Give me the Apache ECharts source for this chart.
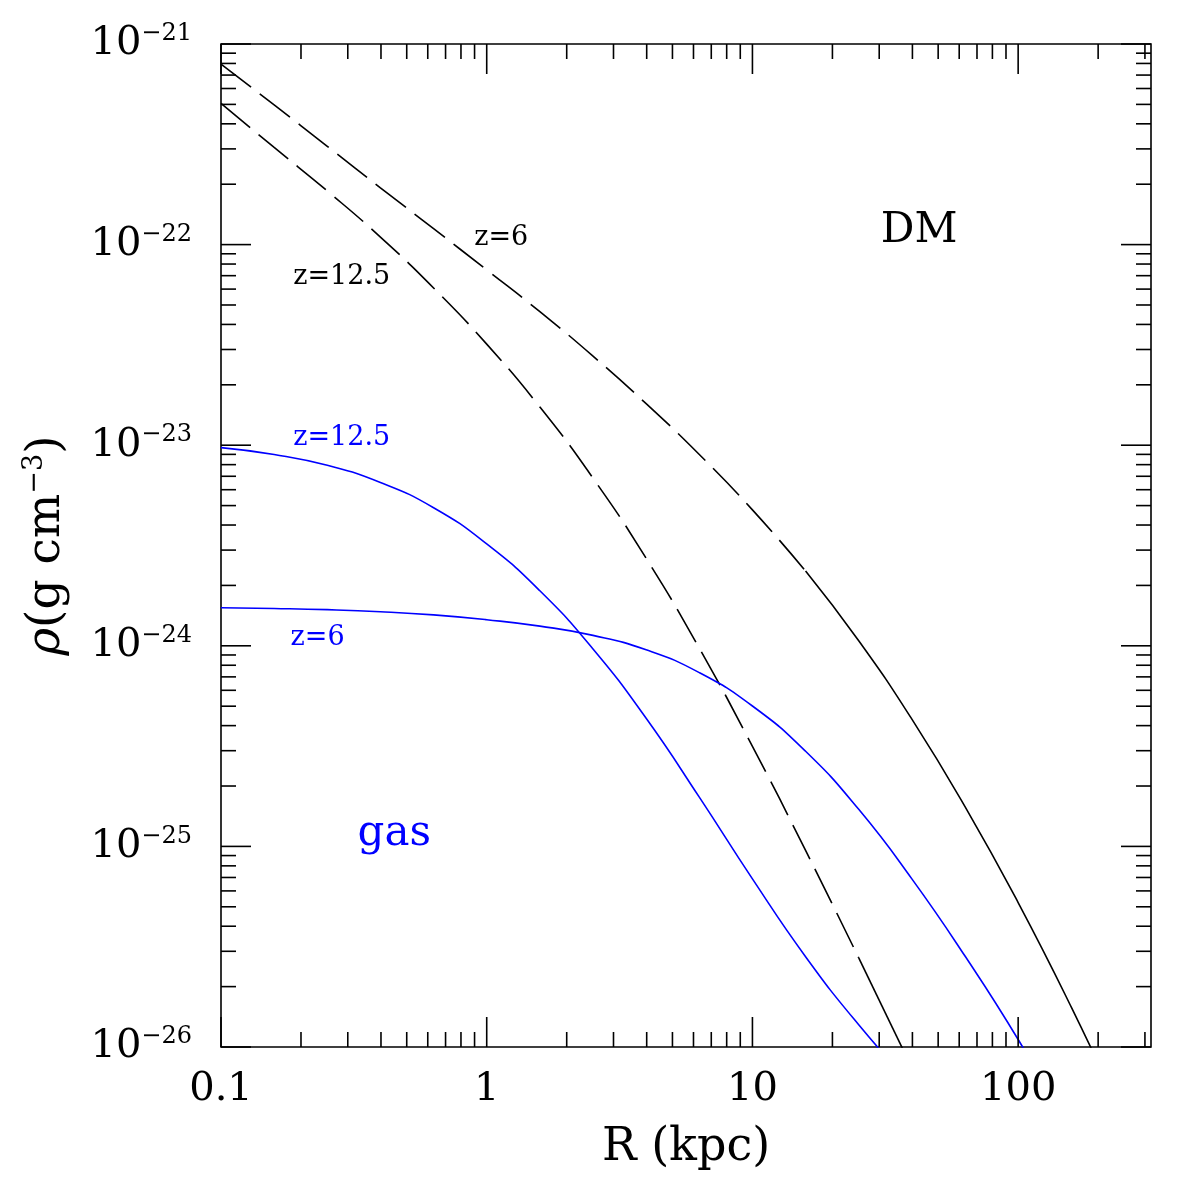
<!DOCTYPE html>
<html>
<head>
<meta charset="utf-8">
<script src="https://cdn.jsdelivr.net/npm/echarts@6/dist/echarts.min.js"></script>
<style>
html,body{margin:0;padding:0;background:#fff;}
#chart{width:1191px;height:1188px;}
</style>
</head>
<body>
<div id="chart"></div>
<script>
// ---------------- data, R in kpc, rho in g cm^-3 ----------------
const radius = [0.1, 0.1585, 0.2512, 0.3981, 0.631, 1, 1.585, 2.512, 3.981, 6.31, 10, 15.85, 25.12, 39.81, 63.1, 100, 158.5, 251.2];

const rhoDMz6  = [7.94e-22, 4.97e-22, 3.09e-22, 1.92e-22, 1.20e-22, 7.48e-23, 4.63e-23, 2.78e-23, 1.61e-23, 8.99e-24, 4.76e-24, 2.36e-24, 1.06e-24, 4.31e-25, 1.58e-25, 5.25e-26, 1.58e-26, 4.35e-27];
const rhoDMz12 = [5.06e-22, 3.05e-22, 1.85e-22, 1.09e-22, 6.08e-23, 3.19e-23, 1.55e-23, 6.85e-24, 2.73e-24, 9.73e-25, 3.15e-25, 9.55e-26, 2.78e-26, 7.87e-27];
const rhoGasz12 = [9.73e-24, 8.99e-24, 7.94e-24, 6.52e-24, 4.88e-24, 3.22e-24, 1.88e-24, 9.64e-25, 4.35e-25, 1.76e-25, 6.89e-26, 2.82e-26, 1.29e-26, 6.46e-27];
const rhoGasz6  = [1.549e-24, 1.535e-24, 1.514e-24, 1.479e-24, 1.426e-24, 1.349e-24, 1.253e-24, 1.127e-24, 9.55e-25, 7.35e-25, 5.01e-25, 2.98e-25, 1.53e-25, 6.89e-26, 2.84e-26, 1.09e-26, 3.78e-27];

// radius where the dashed DM drawing turns into a solid line
const dashEndDMz6 = 15.85;
const dashEndDMz12 = 25.12;

// axes
const xMin = 0.1, xMax = 316.2;
const yMin = 1e-26, yMax = 1e-21;
const xMajorTicks = [0.1, 1, 10, 100];
const xTickLabels = ['0.1', '1', '10', '100'];
const yMajorTicks = [1e-26, 1e-25, 1e-24, 1e-23, 1e-22, 1e-21];
const yTickExponents = ['\u221226', '\u221225', '\u221224', '\u221223', '\u221222', '\u221221'];
const minorMultipliers = [2, 3, 4, 5, 6, 7, 8, 9];

// annotations (text, R, rho)
const annoText = ['DM', 'z=6', 'z=12.5', 'z=12.5', 'z=6', 'gas'];
const annoR    = [42.4, 1.134, 0.2847, 0.2847, 0.231, 0.449];
const annoRho  = [1.17e-22, 1.08e-22, 6.87e-23, 1.09e-23, 1.10e-24, 1.15e-25];

// The chart's y scale works in units of 1e-26 g cm^-3 (avoids float rounding of tiny numbers).
const RHO_UNIT = 1e-26;

// ---------------- styles ----------------
const FONT = 'DejaVu Serif';
const BLUE = '#0000ff';
const annoStyle = [
  {color: '#000', size: 42},
  {color: '#000', size: 27},
  {color: '#000', size: 27},
  {color: BLUE, size: 27},
  {color: BLUE, size: 27},
  {color: BLUE, size: 42}
];

// ---------------- helpers ----------------
const u = v => v / RHO_UNIT;
function pairs(xs, ys) {
  const out = [];
  for (let i = 0; i < ys.length; i++) out.push([xs[i], u(ys[i])]);
  return out;
}
function splitAt(data, r) {
  const i = data.findIndex(d => d[0] === r);
  return [data.slice(0, i + 1), data.slice(i)];
}
function matchIndex(list, v) {
  for (let i = 0; i < list.length; i++) {
    if (Math.abs(Math.log10(v) - Math.log10(list[i])) < 1e-6) return i;
  }
  return -1;
}
const yMajorUnits = yMajorTicks.map(u);

const dm6 = splitAt(pairs(radius, rhoDMz6), dashEndDMz6);
const dm12 = splitAt(pairs(radius, rhoDMz12), dashEndDMz12);

// tick list for custom renderer: [x, y, axis(0=x,1=y), major]
const tickData = [];
xMajorTicks.forEach(v => tickData.push([v, 1000, 0, 1]));
xMajorTicks.forEach(d => minorMultipliers.forEach(m => {
  const v = d * m;
  if (v < xMax) tickData.push([v, 1000, 0, 0]);
}));
yMajorUnits.forEach(v => tickData.push([1, v, 1, 1]));
yMajorUnits.slice(0, -1).forEach(d => minorMultipliers.forEach(m => tickData.push([1, d * m, 1, 0])));

function renderTick(params, api) {
  const cs = params.coordSys;
  const axis = api.value(2);
  const len = api.value(3) ? 30 : 15;
  const style = {stroke: '#000', lineWidth: 1.6};
  if (axis === 0) {
    const px = api.coord([api.value(0), 1000])[0];
    const yb = cs.y + cs.height, yt = cs.y;
    return {type: 'group', children: [
      {type: 'line', shape: {x1: px, y1: yb, x2: px, y2: yb - len}, style: style},
      {type: 'line', shape: {x1: px, y1: yt, x2: px, y2: yt + len}, style: style}
    ]};
  } else {
    const py = api.coord([1, api.value(1)])[1];
    const xl = cs.x, xr = cs.x + cs.width;
    return {type: 'group', children: [
      {type: 'line', shape: {x1: xl, y1: py, x2: xl + len, y2: py}, style: style},
      {type: 'line', shape: {x1: xr, y1: py, x2: xr - len, y2: py}, style: style}
    ]};
  }
}

const annoData = annoText.map((t, i) => [annoR[i], u(annoRho[i]), i]);
function renderAnno(params, api) {
  const i = api.value(2);
  const p = api.coord([api.value(0), api.value(1)]);
  return {
    type: 'text', x: p[0], y: p[1],
    style: {
      text: annoText[i], fill: annoStyle[i].color,
      fontSize: annoStyle[i].size, fontFamily: FONT,
      align: 'center', verticalAlign: 'middle'
    }
  };
}

const lineBase = {type: 'line', showSymbol: false, symbol: 'none', smooth: 0.5, clip: true, silent: true};
const dmDash = {color: '#000', width: 1.6, type: [38, 11]};
const dmSolid = {color: '#000', width: 1.6, type: 'solid'};
const gasLine = {color: BLUE, width: 1.6, type: 'solid'};

const chart = echarts.init(document.getElementById('chart'), null, {renderer: 'canvas'});
chart.setOption({
  animation: false,
  backgroundColor: '#fff',
  grid: {left: 221, top: 44, width: 930, height: 1003, show: true, borderColor: '#000', borderWidth: 1.6, backgroundColor: 'transparent'},
  xAxis: {
    type: 'log', logBase: 10, min: xMin, max: xMax,
    axisLine: {show: false}, axisTick: {show: false}, splitLine: {show: false}, minorTick: {show: false},
    axisLabel: {
      margin: 23, color: '#000', fontFamily: FONT, fontSize: 40,
      formatter: v => { const i = matchIndex(xMajorTicks, v); return i < 0 ? '' : xTickLabels[i]; }
    },
    name: 'R (kpc)', nameLocation: 'middle', nameGap: 78,
    nameTextStyle: {color: '#000', fontFamily: FONT, fontSize: 46}
  },
  yAxis: {
    type: 'log', logBase: 10, min: u(yMin), max: u(yMax),
    axisLine: {show: false}, axisTick: {show: false}, splitLine: {show: false}, minorTick: {show: false},
    axisLabel: {
      margin: 29, color: '#000', fontFamily: FONT,
      formatter: v => { const i = matchIndex(yMajorUnits, v); return i < 0 ? '' : '{b|10}{s|' + yTickExponents[i] + '}'; },
      rich: {
        b: {fontFamily: FONT, fontSize: 40, lineHeight: 44, color: '#000'},
        s: {fontFamily: FONT, fontSize: 24, lineHeight: 28, verticalAlign: 'top', color: '#000'}
      }
    },
    name: '{i|\u03c1}{r|(g cm}{s|\u22123}{r|)}', nameLocation: 'middle', nameGap: 148, nameRotate: 90,
    nameTextStyle: {
      color: '#000', fontFamily: FONT, fontSize: 47,
      rich: {
        i: {fontFamily: FONT, fontSize: 47, fontStyle: 'italic', lineHeight: 52, color: '#000'},
        r: {fontFamily: FONT, fontSize: 47, lineHeight: 52, color: '#000'},
        s: {fontFamily: FONT, fontSize: 27, lineHeight: 30, verticalAlign: 'top', color: '#000'}
      }
    }
  },
  series: [
    Object.assign({}, lineBase, {name: 'DM z=6', data: dm6[0], lineStyle: dmDash}),
    Object.assign({}, lineBase, {name: 'DM z=6 tail', data: dm6[1], lineStyle: dmSolid}),
    Object.assign({}, lineBase, {name: 'DM z=12.5', data: dm12[0], lineStyle: dmDash}),
    Object.assign({}, lineBase, {name: 'DM z=12.5 tail', data: dm12[1], lineStyle: dmSolid}),
    Object.assign({}, lineBase, {name: 'gas z=12.5', data: pairs(radius, rhoGasz12), lineStyle: gasLine}),
    Object.assign({}, lineBase, {name: 'gas z=6', data: pairs(radius, rhoGasz6), lineStyle: gasLine}),
    {
      type: 'custom', name: 'ticks', coordinateSystem: 'cartesian2d', silent: true, clip: false,
      encode: {x: 0, y: 1}, data: tickData, renderItem: renderTick, z: 5
    },
    {
      type: 'custom', name: 'labels', coordinateSystem: 'cartesian2d', silent: true, clip: false,
      encode: {x: 0, y: 1}, data: annoData, renderItem: renderAnno, z: 6
    }
  ]
});
</script>
</body>
</html>
